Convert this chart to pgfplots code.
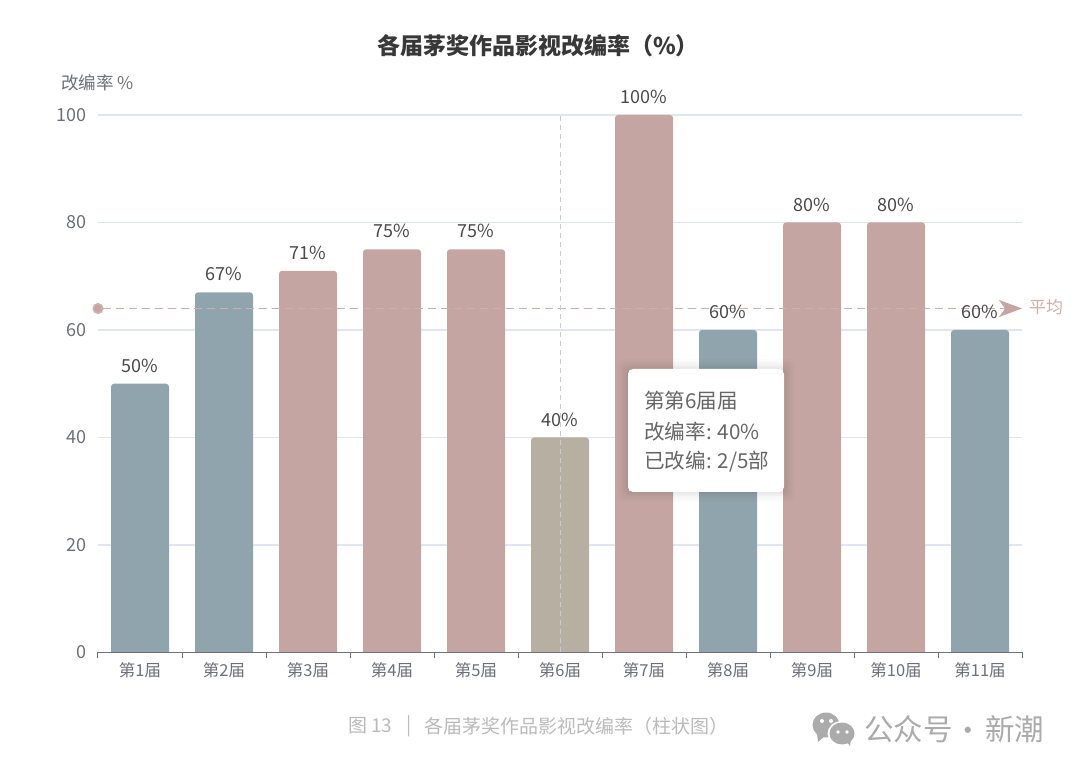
\documentclass[border=0pt]{standalone}
\usepackage{fontspec}
\usepackage{pgfplots}
\pgfplotsset{compat=1.18}
\usetikzlibrary{arrows.meta}
\setmainfont{Noto Sans CJK SC}
\definecolor{steel}{HTML}{90A4AE}
\definecolor{rose}{HTML}{C4A5A1}
\definecolor{sand}{HTML}{B8AFA3}
\definecolor{axisgray}{HTML}{6E7079}
\definecolor{gridc}{HTML}{E0E6F1}
\definecolor{labelc}{HTML}{4A4A4A}
\definecolor{capc}{HTML}{BBBBBB}
\definecolor{wxc}{HTML}{ABABAB}
\definecolor{avgc}{HTML}{CDB0AD}
\newcommand{\fs}[1]{\fontsize{#1}{#1}\selectfont}
\pgfplotsset{
  frame/.style={
    at={(98pt,119.5pt)}, anchor=south west,
    scale only axis, width=924pt, height=537.5pt,
    xmin=-0.5, xmax=10.5, ymin=0, ymax=100,
  },
  barbase/.style={ybar, bar shift=0pt, bar width=58pt, draw=none, rounded corners=3pt,
    yshift=-4pt, y filter/.expression={y+0.7442}, point meta=rawy,
    nodes near coords={\pgfmathprintnumber[fixed,precision=0,/pgf/number format/assume math mode=true]{\pgfplotspointmeta}\%},
    every node near coord/.append style={anchor=center, yshift=18pt, text=labelc, font=\fs{18}, inner sep=0pt, sharp corners}},
}
\begin{document}
\begin{tikzpicture}[x=1pt,y=1pt]
\path[use as bounding box,fill=white] (0,0) rectangle (1080,772);
\begin{axis}[frame,
  axis x line=bottom, axis y line=left,
  x axis line style={-, draw=axisgray, line width=1pt},
  y axis line style={draw=none},
  xtick={0,...,10},
  xticklabels={第1届,第2届,第3届,第4届,第5届,第6届,第7届,第8届,第9届,第10届,第11届},
  minor xtick={-0.5,0.5,...,10.5},
  ytick={0,20,...,100},
  major x tick style={draw=none},
  major y tick style={draw=none},
  minor x tick style={draw=axisgray, line width=1pt},
  minor tick length=6pt,
  major tick length=0pt,
  tick align=outside,
  ymajorgrids,
  grid style={draw=gridc, line width=1.2pt},
  x tick label style={font=\fs{16.5}, text=axisgray, yshift=-7pt, anchor=north},
  y tick label style={font=\fs{18}, text=axisgray, xshift=-8pt},
  /pgf/number format/assume math mode=true,
]
\end{axis}
\begin{scope}
\clip (0,120) rectangle (1080,772);
\begin{axis}[frame, hide axis, clip=false]
\addplot[barbase, fill=steel] coordinates {(0,50) (1,67) (7,60) (10,60)};
\addplot[barbase, fill=rose] coordinates {(2,71) (3,75) (4,75) (6,100) (8,80) (9,80)};
\addplot[barbase, fill=sand] coordinates {(5,40)};
\addplot[draw=avgc, line width=1.6pt, dash pattern=on 8pt off 5pt, forget plot, shorten <=-5.5pt,
  {Circle[length=11pt,fill=rose,sep=0pt]}-{Stealth[length=23pt,width=17pt,inset=6pt,fill=rose,color=rose]}]
  coordinates {(-0.5,64) (10.5,64)};
\addplot[draw=axisgray!22!gridc, line width=1pt, dash pattern=on 5pt off 4pt, forget plot]
  coordinates {(5,0) (5,100)};
\end{axis}
\end{scope}
% average label
\node[anchor=west, inner sep=0pt, text=avgc, font=\fs{17}] at (1029,772-307) {平均};
% title and axis name
\node[anchor=center, inner sep=0pt, text=black!78, font=\fs{23}\bfseries] at (538,772-45.5) {各届茅奖作品影视改编率（\%）};
\node[anchor=west, inner sep=0pt, text=axisgray, font=\fs{17.5}] at (61,772-82.5) {改编率 \%};
% tooltip
\foreach \d/\o in {11/0.01,9/0.012,7/0.016,5/0.02,3/0.025,1/0.03}{
  \fill[black, opacity=\o, rounded corners=6pt] (628-\d,772-492-\d+1) rectangle (784+\d,772-369+\d-1);
}
\fill[white, rounded corners=5pt] (628,772-492) rectangle (784,772-369);
\node[anchor=west, inner sep=0pt, text=black!60, font=\fs{20.6}] at (644,772-401) {第第6届届};
\node[anchor=west, inner sep=0pt, text=black!60, font=\fs{20.6}] at (644,772-432) {改编率: 40\%};
\node[anchor=west, inner sep=0pt, text=black!60, font=\fs{20.6}] at (644,772-462) {已改编: 2/5部};
% caption
\node[anchor=west, inner sep=0pt, text=capc, font=\fs{19}] at (348,772-726) {图 13};
\node[anchor=center, inner sep=0pt, text=capc, font=\fs{19}] at (409,772-726) {|};
\node[anchor=west, inner sep=0pt, text=capc, font=\fs{19}] at (424,772-726) {各届茅奖作品影视改编率（柱状图）};
% WeChat-like watermark
\fill[wxc] (826,772-725) ellipse (13.5pt and 12.5pt);
\fill[wxc] (817,772-733) -- (818,772-742) -- (826,772-735) -- cycle;
\fill[white] (822,772-721) circle (2pt) (831,772-721) circle (2pt);
\fill[white] (842,772-733.5) ellipse (14.5pt and 12.5pt);
\fill[wxc] (842,772-733.5) ellipse (12.5pt and 11pt);
\fill[wxc] (846,772-741) -- (850,772-746) -- (851,772-739) -- cycle;
\fill[white] (838,772-732) circle (1.8pt) (847,772-732) circle (1.8pt);
\node[anchor=west, inner sep=0pt, text=wxc, font=\fs{29.5}] at (864,772-729) {公众号};
\node[anchor=center, inner sep=0pt, text=wxc, font=\fs{29.5}] at (968,772-734) {·};
\node[anchor=west, inner sep=0pt, text=wxc, font=\fs{29.5}] at (985,772-729) {新潮};
\end{tikzpicture}
\end{document}
